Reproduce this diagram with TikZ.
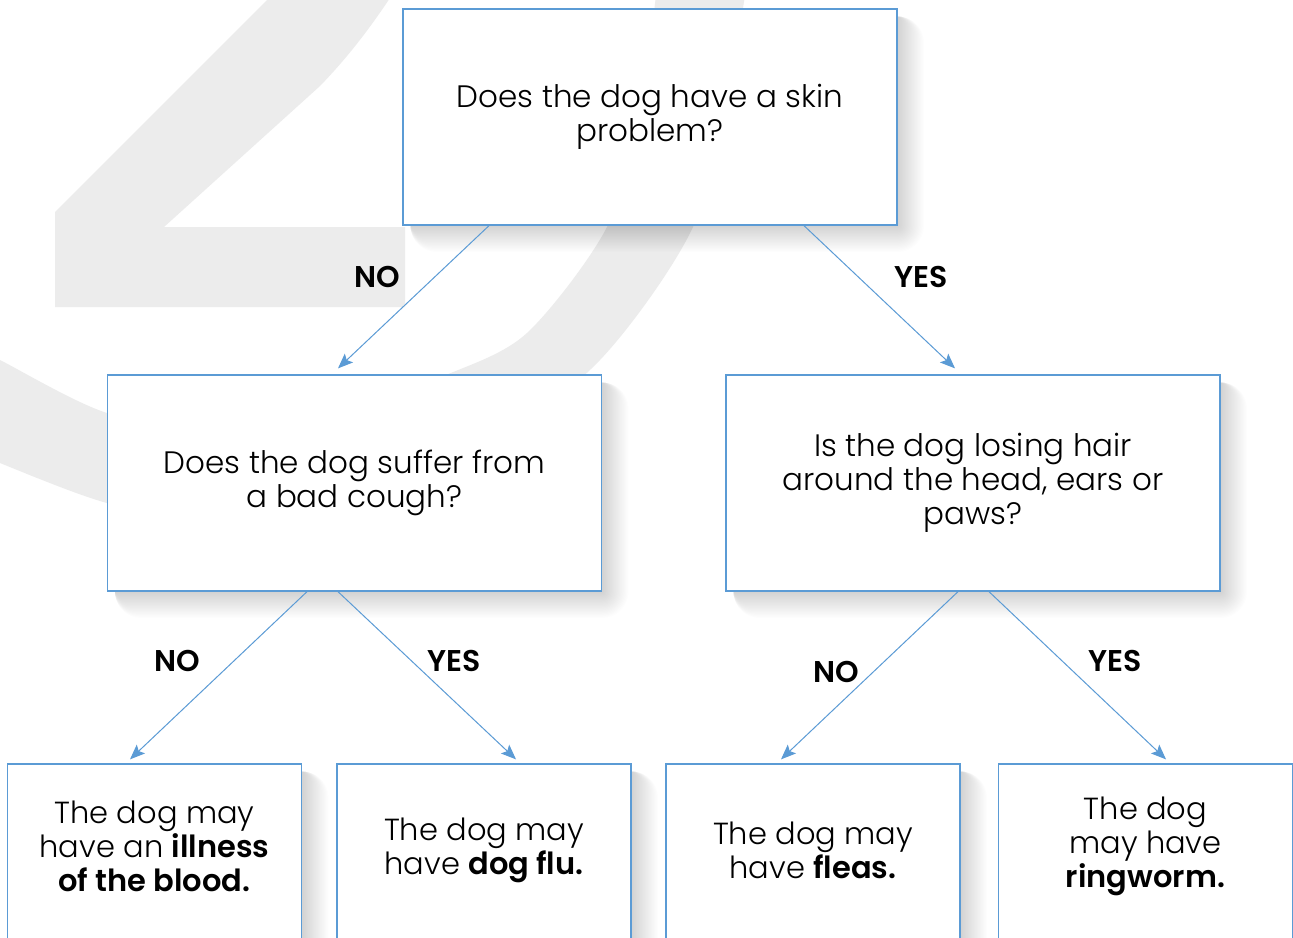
\documentclass[tikz,border=0pt]{standalone}
\usepackage{fontspec}
\IfFontExistsTF{Poppins Light}{\setmainfont{Poppins}[UprightFont=* Light,BoldFont=* SemiBold]}{\setmainfont{Poppins}}
\usetikzlibrary{arrows.meta}
\definecolor{boxblue}{RGB}{91,155,213}
\definecolor{bgshape}{RGB}{236,236,236}
\pgfdeclarelayer{bglayer}
\pgfdeclarelayer{shadowlayer}
\pgfsetlayers{bglayer,shadowlayer,main}
\newcommand{\boxshadow}[1]{%
  \foreach \i in {1,...,22}{%
    \fill[black,opacity=0.0065,rounded corners=\i*1.2pt]
      ([xshift=8pt,yshift=-8pt]#1.north west) rectangle ([xshift=\i*1.2pt,yshift=-\i*1.2pt]#1.south east);}}
\begin{document}
\begin{tikzpicture}[x=1pt,y=-1pt,
  box/.style={draw=boxblue, line width=1.3pt, fill=white, minimum width=494pt, minimum height=216pt, inner sep=0pt, align=center, font=\fontsize{31}{34}\selectfont},
  smallbox/.style={box, minimum width=294pt},
  txt/.style={align=center, font=\fontsize{30.5}{34}\selectfont, inner sep=0pt},
  lbl/.style={font=\fontsize{30}{32}\selectfont\bfseries, inner sep=0pt},
  conn/.style={draw=boxblue, line width=1pt, -{Stealth[length=15pt,width=12pt,inset=3pt]}}]
\clip (0,0) rectangle (1293,937);
% boxes
\node[box] (top) at (650,117) {Does the dog have a skin\\problem?};
\node[box] (ml) at (354.5,483) {Does the dog suffer from\\a bad cough?};
\node[box] (mr) at (973,483) {Is the dog losing hair\\around the head, ears or\\paws?};
\node[smallbox] (b1) at (154.5,872) {};
\node[smallbox] (b2) at (484,872) {};
\node[smallbox] (b3) at (813,872) {};
\node[smallbox] (b4) at (1145.5,872) {};
\node[txt] (b1t) at (154.5,846) {The dog may\\have an \textbf{illness}\\\textbf{of the blood.}};
\node[txt] (b2t) at (484,850) {The dog may\\have \textbf{dog flu.}};
\node[txt] (b3t) at (813,850) {The dog may\\have \textbf{fleas.}};
\node[txt] (b4t) at (1145.5,846) {The dog\\may have\\\textbf{ringworm.}};
% background shapes
\begin{pgfonlayer}{bglayer}
\fill[white] (0,0) rectangle (1293,937);
\fill[bgshape] (272,-5) -- (55,212) -- (55,307) -- (405,307) -- (405,227) -- (164,227) -- (320,86) .. controls (350,55) and (372,25) .. (392,-5) -- cycle;
\fill[bgshape] plot[smooth] coordinates {(745,-5) (730,80) (693,227) (600,360) (480,450) (330,505) (200,515) (107,503) (0,463) (-20,452)}
  -- plot[smooth] coordinates {(-20,350) (0,360) (107,413) (220,428) (340,412) (446,375) (527,333) (607,227) (640,110) (656,-5)} -- cycle;
\end{pgfonlayer}
% shadows
\begin{pgfonlayer}{shadowlayer}
\boxshadow{top}\boxshadow{ml}\boxshadow{mr}
\boxshadow{b1}\boxshadow{b2}\boxshadow{b3}\boxshadow{b4}
\end{pgfonlayer}
% connectors
\draw[conn] ([xshift=-161pt]top.south) -- ([xshift=-16.5pt,yshift=6pt]ml.north);
\draw[conn] ([xshift=154pt]top.south) -- ([xshift=-18pt,yshift=6pt]mr.north);
\draw[conn] ([xshift=-47.5pt]ml.south) -- ([xshift=-24.5pt,yshift=4pt]b1.north);
\draw[conn] ([xshift=-16.5pt]ml.south) -- ([xshift=32pt,yshift=4pt]b2.north);
\draw[conn] ([xshift=-15pt]mr.south) -- ([xshift=-32pt,yshift=4pt]b3.north);
\draw[conn] ([xshift=16pt]mr.south) -- ([xshift=20.5pt,yshift=4pt]b4.north);
% labels
\node[lbl] (l1) at (377,277) {NO};
\node[lbl] (l2) at (921,277) {YES};
\node[lbl] (l3) at (177,661) {NO};
\node[lbl] (l4) at (454,661) {YES};
\node[lbl] (l5) at (836,672) {NO};
\node[lbl] (l6) at (1115,661) {YES};
\end{tikzpicture}
\end{document}
